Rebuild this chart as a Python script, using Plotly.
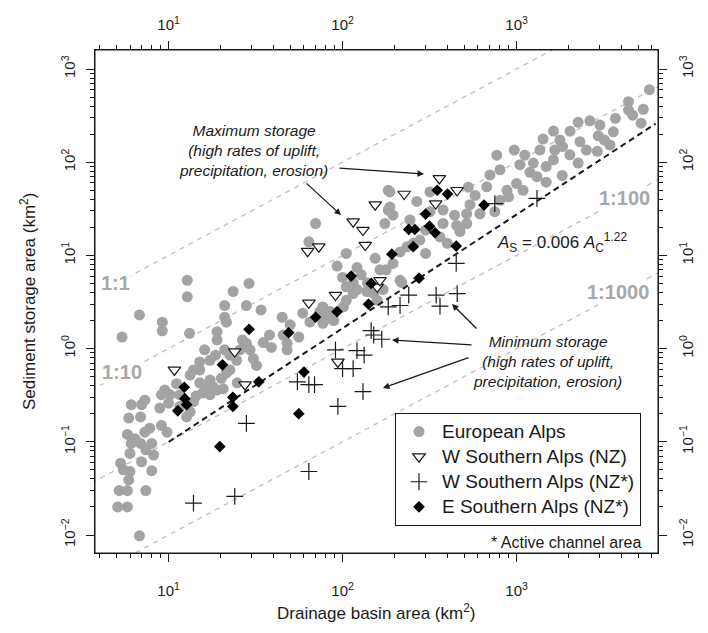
import plotly.graph_objects as go

# ---------------- data ----------------
# European Alps: drainage basin area (km2) and sediment storage area (km2)
eu_area = [
    5.4, 6.8, 9.2, 9.2, 12.8, 12.8, 13.2, 21, 21, 21.5,
    23.5, 29, 28, 34, 19, 19, 38, 45.6, 45, 48,
    56, 48, 35, 39, 28, 29.4, 30.7, 24.6, 22.5, 16.1,
    15.1, 17.3, 13.9, 13.3, 15.1, 17.3, 18, 16.6, 15.7, 17.3,
    19, 20.1, 20.6, 21.5, 11.1, 9.5, 9.1, 10.2, 10, 11.6,
    13.3, 13.9, 12.7, 8.9, 6.1, 7.0, 5.9, 6.9, 9.1, 7.8,
    7.3, 9.8, 5.8, 6.1, 6.4, 6.9, 8.0, 7.4, 8.2, 6.0,
    7.0, 5.3, 5.5, 6.0, 8.0, 5.9, 5.2, 5.8, 7.4, 5.1,
    5.8, 6.8, 18.6, 21, 25.7, 26.6, 32, 15.1, 14.4, 22.5,
    59, 74, 77, 85, 81, 89, 77, 101, 105, 115,
    121, 105, 138, 151, 171, 158, 50, 65, 11.6, 24.8,
    7.3,
    70, 64, 105, 154, 183, 183, 93, 100, 121, 139,
    164, 115, 128,
    5800, 4400, 4400, 5350, 5200, 4650, 3700, 2260, 2640, 3014,
    2950, 3600, 1630, 1420, 1840, 2313, 2520, 2910, 3441, 970,
    770, 1115, 1046, 1250, 1480, 1630, 2027, 2260, 1830, 1480,
    1310, 1000, 880, 900, 1090, 674, 528, 267, 187, 187,
    195, 318, 318, 378, 378, 517, 616, 750, 453, 473,
    517, 363, 400, 300, 255, 235, 214, 300, 195, 178,
    214, 219, 1775, 2030, 3200, 803, 703, 1194, 1362, 1660,
    578, 803, 440, 540, 244, 278, 175,
]
eu_storage = [
    1.33, 2.3, 1.92, 1.55, 5.4, 3.6, 1.46, 2.9, 2.17, 1.92,
    4.1, 5.0, 2.9, 2.6, 1.52, 1.24, 1.40, 1.40, 2.17, 1.14,
    1.33, 0.97, 1.16, 1.03, 1.14, 0.97, 0.78, 0.75, 0.59, 0.97,
    0.72, 0.75, 0.59, 0.52, 0.59, 0.46, 0.39, 0.39, 0.335, 0.32,
    0.36, 0.48, 0.37, 0.55, 0.42, 0.36, 0.32, 0.32, 0.26, 0.24,
    0.21, 0.27, 0.185, 0.23, 0.25, 0.25, 0.18, 0.185, 0.15, 0.14,
    0.127, 0.127, 0.12, 0.096, 0.108, 0.096, 0.096, 0.082, 0.072, 0.075,
    0.061, 0.059, 0.050, 0.048, 0.049, 0.039, 0.030, 0.030, 0.030, 0.020,
    0.020, 0.0098, 0.85, 0.97, 0.97, 1.24, 0.66, 0.43, 0.31, 0.85,
    2.4, 2.5, 2.8, 2.5, 2.1, 2.0, 1.87, 2.8, 3.3, 3.9,
    4.3, 4.6, 4.1, 3.9, 4.3, 3.3, 1.8, 1.93, 0.32, 0.43,
    0.28,
    22, 14, 10.5, 9.3, 50, 30.7, 7.7, 5.8, 7.4, 5.1,
    7.0, 5.1, 6.2,
    600, 446, 363, 370, 262, 320, 296, 268, 278, 250,
    192, 212, 216, 177, 147, 166, 135, 131, 153, 135,
    119, 119, 94, 98, 90, 106, 120, 98, 72, 61,
    70, 59, 50, 42.5, 50, 54.5, 54, 38, 48, 33,
    27, 48, 29.5, 30.7, 22, 28, 28, 29.5, 21, 18,
    22, 15.8, 13.5, 18.7, 13.5, 12.4, 10.9, 10.5, 8.2, 7.0,
    5.4, 5.1, 173, 215, 173, 83, 73, 78, 135, 135,
    44, 39, 27, 35, 24, 14.6, 22,
]

# W Southern Alps (NZ)
wsa_area = [10.8, 24, 27.5, 64, 91, 94, 158, 164, 63, 73,
            135, 131, 115, 154, 226, 343, 360, 455]
wsa_storage = [0.59, 0.93, 0.41, 3.1, 3.75, 0.72, 4.6, 5.4, 11.1, 12.4,
               12.9, 18.7, 23, 35, 45.6, 36, 67, 50]

# W Southern Alps (NZ*) - active channel area
wsa_star_area = [750, 1310, 450, 240, 214, 183, 345, 456, 363, 168,
                 28, 13.9, 24, 64, 55, 64, 69, 91, 94, 100,
                 115, 121, 133, 131, 146, 151]
wsa_star_storage = [36, 41, 8.2, 3.75, 2.9, 2.8, 3.75, 3.9, 2.86, 1.26,
                    0.158, 0.022, 0.026, 0.048, 0.44, 0.41, 0.41, 0.97, 0.24, 0.61,
                    0.61, 0.95, 0.85, 0.345, 1.56, 1.4]

# E Southern Alps (NZ*) - active channel area
esa_area = [112, 146, 350, 401, 300, 316, 340, 240, 260, 255,
            192, 450, 650, 275, 29, 20.4, 12.3, 12.4, 12.7, 11.3,
            23.4, 23.4, 33, 49, 70, 93, 141, 60, 56, 19.7]
esa_storage = [6.0, 5.0, 50, 45.5, 27.8, 20.6, 17.5, 19, 19, 12.4,
               10.3, 12.6, 34.7, 5.7, 1.61, 0.67, 0.385, 0.29, 0.25, 0.215,
               0.30, 0.24, 0.44, 1.48, 2.17, 2.49, 3.0, 0.56, 0.20, 0.089]

series_names = ["European Alps", "W Southern Alps (NZ)",
                "W Southern Alps (NZ*)", "E Southern Alps (NZ*)"]

# power-law fit  A_S = 0.006 * A_C ^ 1.22
fit_coef = 0.006
fit_exp = 1.22
fit_area = [10, 6300]

# reference ratio lines (storage : basin)
ratio_values = [1, 0.1, 0.01, 0.001]
ratio_labels = ["1:1", "1:10", "1:100", "1:1000"]
ratio_area = [1, 10000]

x_tick_vals = [10, 100, 1000]
x_tick_text = ["10<sup>1</sup>", "10<sup>2</sup>", "10<sup>3</sup>"]
y_tick_vals = [0.01, 0.1, 1, 10, 100, 1000]
y_tick_text = ["10<sup>\u22122</sup>", "10<sup>\u22121</sup>", "10<sup>0</sup>",
               "10<sup>1</sup>", "10<sup>2</sup>", "10<sup>3</sup>"]
x_minor_vals = [m * 10 ** e for e in range(0, 4) for m in range(2, 10) if 3.9 < m * 10 ** e < 6500]
y_minor_vals = [m * 10.0 ** e for e in range(-2, 3) for m in range(2, 10)]

# ---------------- layout helpers ----------------
W, H = 708, 633
L, R, T, B = 95, 50, 50, 80
PW, PH = W - L - R, H - T - B
FONT = "Liberation Sans, Arial, Helvetica, sans-serif"
INK = "#1a1a1a"


def px(x):
    return (x - L) / PW


def py(y):
    return (H - B - y) / PH


def legend_name(s):
    return '<span style="font-size:19px">%s</span>' % s


fig = go.Figure()

ratio_pos = [(115, 283), (122, 372), (624, 198), (618, 292)]
for r in ratio_values:
    fig.add_trace(go.Scatter(
        x=ratio_area, y=[r * a for a in ratio_area], mode="lines",
        line=dict(color="#c2c2c2", width=1.4, dash="5px,5px"),
        showlegend=False, hoverinfo="skip"))

fig.add_trace(go.Scatter(
    x=eu_area, y=eu_storage, mode="markers", name=legend_name(series_names[0]),
    marker=dict(symbol="circle", size=11, color="#a3a3a3", line=dict(width=0))))

fig.add_trace(go.Scatter(
    x=fit_area, y=[fit_coef * a ** fit_exp for a in fit_area], mode="lines",
    line=dict(color=INK, width=2, dash="6px,4px"), showlegend=False, hoverinfo="skip"))

fig.add_trace(go.Scatter(
    x=wsa_area, y=wsa_storage, mode="markers", name=legend_name(series_names[1]),
    marker=dict(symbol="triangle-down", size=11, color="white", line=dict(color=INK, width=1.2))))

fig.add_trace(go.Scatter(
    x=wsa_star_area, y=wsa_star_storage, mode="markers", name=legend_name(series_names[2]),
    marker=dict(symbol="cross-thin-open", size=12, color=INK, line=dict(color=INK, width=1.2))))

fig.add_trace(go.Scatter(
    x=esa_area, y=esa_storage, mode="markers", name=legend_name(series_names[3]),
    marker=dict(symbol="diamond", size=9, color="black", line=dict(width=0))))

# invisible copy of the fit on the secondary (top/right) axes so they are drawn
fig.add_trace(go.Scatter(
    x=fit_area, y=[fit_coef * a ** fit_exp for a in fit_area], mode="lines",
    xaxis="x2", yaxis="y2", opacity=0, showlegend=False, hoverinfo="skip"))

axis_common = dict(
    type="log", showgrid=False, zeroline=False, ticks="outside", ticklen=8, tickwidth=1,
    tickcolor=INK, tickfont=dict(family=FONT, size=15, color=INK), tickmode="array",
)
minor_common = dict(ticks="outside", ticklen=4, tickcolor=INK, tickwidth=1, tickmode="array",
                    showgrid=False)

x_range = [0.577, 3.813]
y_range = [-2.193, 3.204]

fig.update_layout(
    width=W, height=H, margin=dict(l=L, r=R, t=T, b=B, autoexpand=False),
    paper_bgcolor="white", plot_bgcolor="white",
    font=dict(family=FONT, color=INK),
    xaxis=dict(**axis_common, range=x_range, tickvals=x_tick_vals, ticktext=x_tick_text,
               showline=True, linecolor=INK, linewidth=1, mirror=True, ticklabelstandoff=16,
               minor=dict(**minor_common, tickvals=x_minor_vals)),
    xaxis2=dict(**axis_common, range=x_range, tickvals=x_tick_vals, ticktext=x_tick_text,
                overlaying="x", side="top", anchor="y", showline=False, ticklabelstandoff=5,
                minor=dict(**minor_common, tickvals=x_minor_vals)),
    yaxis=dict(**axis_common, range=y_range, tickvals=y_tick_vals, ticktext=y_tick_text,
               showline=True, linecolor=INK, linewidth=1, mirror=True, tickangle=-90,
               ticklabelstandoff=5, minor=dict(**minor_common, tickvals=y_minor_vals)),
    yaxis2=dict(**axis_common, range=y_range, tickvals=y_tick_vals, ticktext=y_tick_text,
                overlaying="y", side="right", anchor="x", showline=False, tickangle=-90,
                ticklabelstandoff=8, minor=dict(**minor_common, tickvals=y_minor_vals)),
    legend=dict(x=px(395), y=py(413), xanchor="left", yanchor="top",
                bordercolor=INK, borderwidth=1, bgcolor="white",
                font=dict(family=FONT, size=17, color=INK), itemsizing="trace",
                itemwidth=36, tracegroupgap=0),
    showlegend=True,
    shapes=[dict(type="rect", xref="paper", yref="paper", x0=0, x1=1, y0=0, y1=1,
                 line=dict(color=INK, width=1), layer="above")],
)

ann = []


def note(text, x, y, size, **kw):
    d = dict(text=text, x=px(x), y=py(y), xref="paper", yref="paper", showarrow=False,
             xanchor="center", yanchor="middle", font=dict(size=size))
    d.update(kw)
    ann.append(d)


# axis titles
note("Drainage basin area (km<sup>2</sup>)", 376, 612, 17)
note("Sediment storage area (km<sup>2</sup>)", 28, 302, 17, textangle=-90)
# ratio labels
for lab, (lx, ly) in zip(ratio_labels, ratio_pos):
    note("<b>%s</b>" % lab, lx, ly, 20, bgcolor="white", borderpad=0,
         font=dict(size=20, color="#a8a8a8"))
# fit label
note("<i>A</i><sub>S</sub> = 0.006 <i>A</i><sub>C</sub><sup>1.22</sup>", 562, 242, 17)
# storage notes
note("<i>Maximum storage<br>(high rates of uplift,<br>precipitation, erosion)</i>", 253, 150, 15.5)
note("<i>Minimum storage<br>(high rates of uplift,<br>precipitation, erosion)</i>", 547, 362, 15.5)
note("* Active channel area", 643, 542, 16, xanchor="right")

# arrows (tail -> head) in pixel positions
arrows = [((338, 168), (424, 174)), ((305, 182), (341, 215)),
          ((478, 330), (452, 304)), ((473, 345), (392, 340)), ((470, 357), (383, 388))]
for (tx, ty), (hx, hy) in arrows:
    ann.append(dict(text="", x=px(hx), y=py(hy), xref="paper", yref="paper",
                    ax=tx - hx, ay=ty - hy, axref="pixel", ayref="pixel",
                    showarrow=True, arrowhead=2, arrowsize=1, arrowwidth=1.3,
                    arrowcolor=INK, standoff=0, startstandoff=0))
fig.update_layout(annotations=ann)

fig.write_html("out.html")
